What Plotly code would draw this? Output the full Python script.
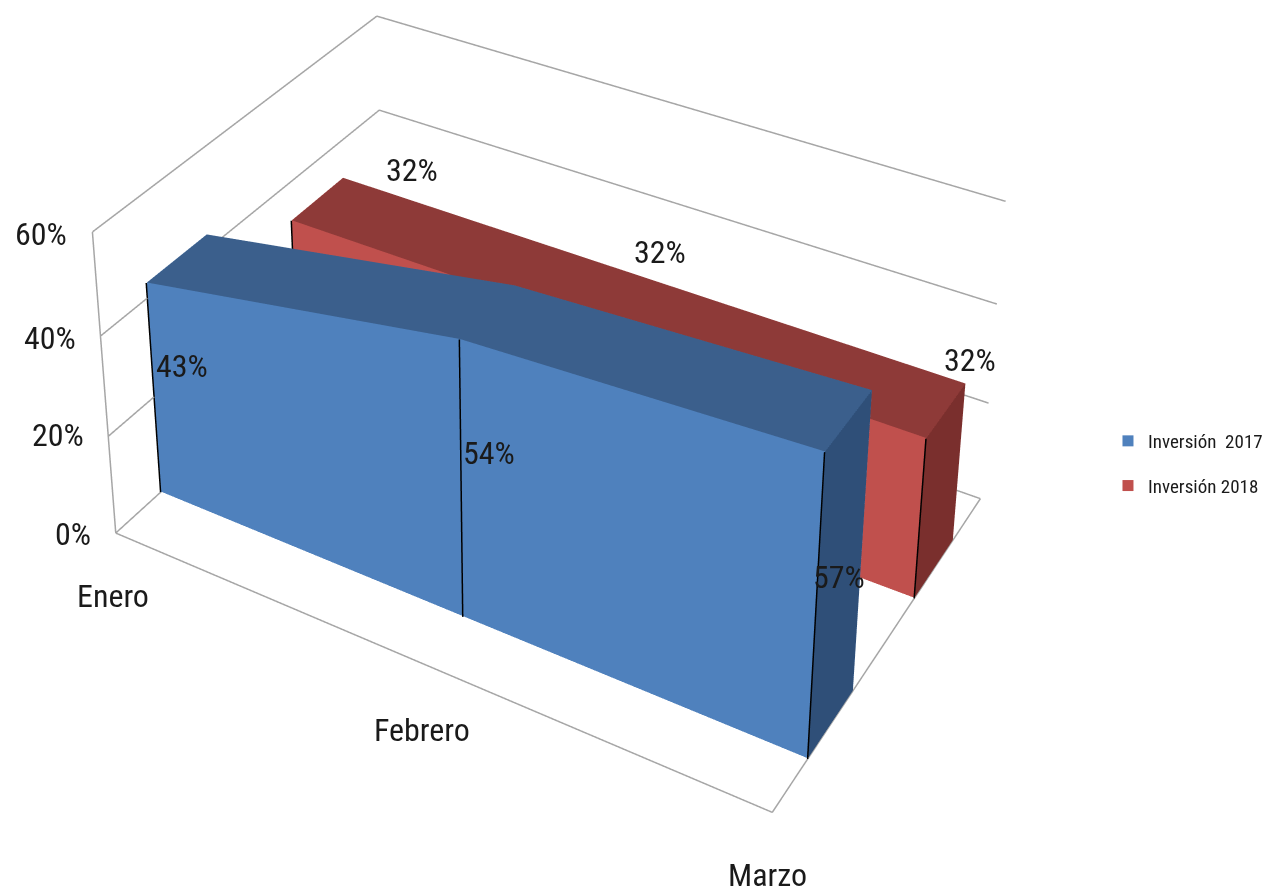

import plotly.graph_objects as go

categorias = ["Enero", "Febrero", "Marzo"]
inv_2017 = [43, 54, 57]
inv_2018 = [32, 32, 32]
ticks = [0, 20, 40, 60]
xs = [0, 1, 2]
serie_2017 = "Inversión\u00a0 2017"
serie_2018 = "Inversión 2018"

# Depth bands of the two series along the (0..1) depth axis
depth_2017 = (0.15126, 0.35177)
depth_2018 = (0.64958, 0.84867)

# Camera fitted to the reference's three-point perspective
eye = dict(x=2.09402, y=-3.65850, z=3.10025)
center = dict(x=-0.43524, y=0.64097, z=0.90899)
up = dict(x=-0.00140, y=0.00353, z=0.16462)
aspect = dict(x=1.41655, y=0.95282, z=0.69446)

# The camera's optical axis sits above the picture, so the scene is taller than the page
W = 1268
SCENE_H = 2206
EXTRA = 30
H = SCENE_H + EXTRA
TOP = -1329
AXIS_X = 522.84 + 15.5
dom_w = 2 * AXIS_X / W

BLUE = ('#4F81BD', '#3B5F8C', '#2F4F78')
RED = ('#C0504D', '#8E3A38', '#7A2F2D')
FONT = 'Roboto Condensed'
TEXT = '#1a1a1a'
zmax = ticks[-1]

fig = go.Figure()

# Wall and floor lines
wx, wy, wz = [], [], []
for t in ticks:
    wx += [0, 0, xs[-1], None]
    wy += [0, 1, 1, None]
    wz += [t, t, t, None]
wx += [0, 0, None, 0, xs[-1], xs[-1]]
wy += [0, 0, None, 0, 0, 1]
wz += [0, zmax, None, 0, 0, 0]
fig.add_trace(go.Scatter3d(x=wx, y=wy, z=wz, mode='lines', line=dict(color='#A6A6A6', width=3),
                           showlegend=False, hoverinfo='skip'))

for vals, (d0, d1), cols in ((inv_2017, depth_2017, BLUE), (inv_2018, depth_2018, RED)):
    vx, vy, vz = [], [], []
    for yy in (d0, d1):
        for n, xv in enumerate(xs):
            vx += [xv, xv]
            vy += [yy, yy]
            vz += [0, vals[n]]
    i, j, k, fc = [], [], [], []

    def q4(A, B, C, E, col):
        i.extend([A, A])
        j.extend([B, C])
        k.extend([C, E])
        fc.extend([col, col])

    q4(0, 2, 3, 1, cols[0]); q4(2, 4, 5, 3, cols[0]); q4(6, 8, 9, 7, cols[0]); q4(8, 10, 11, 9, cols[0])
    q4(1, 3, 9, 7, cols[1]); q4(3, 5, 11, 9, cols[1]); q4(4, 10, 11, 5, cols[2]); q4(0, 6, 7, 1, cols[0])
    fig.add_trace(go.Mesh3d(x=vx, y=vy, z=vz, i=i, j=j, k=k, facecolor=fc, flatshading=True,
                            lighting=dict(ambient=1, diffuse=0, specular=0, fresnel=0),
                            hoverinfo='skip', showscale=False))
    lx, ly, lz = [], [], []
    for n, xv in enumerate(xs):
        lx += [xv, xv, None]
        ly += [d0 - 0.002, d0 - 0.002, None]
        lz += [0, vals[n], None]
    fig.add_trace(go.Scatter3d(x=lx, y=ly, z=lz, mode='lines', line=dict(color='black', width=3),
                               showlegend=False, hoverinfo='skip'))

for name, col, grp in ((serie_2017, BLUE[0], 'a'), (serie_2018, RED[0], 'b')):
    fig.add_trace(go.Scatter3d(x=[None], y=[None], z=[None], mode='markers', name=name, legendgroup=grp,
                               marker=dict(symbol='square', size=11, color=col)))


def ann(x, y, z, text, dx, dy):
    return dict(x=x, y=y, z=z, text=text, showarrow=False, xshift=dx, yshift=-dy,
                xanchor='center', yanchor='middle', font=dict(family=FONT, size=32, color=TEXT))


annots = []
for t, (dx, dy) in zip(ticks, ((-43, 1), (-50, -1), (-50, 2), (-51, 2))):
    annots.append(ann(0, 0, t, f"{t}%", dx, dy))
for n, (dx, dy) in enumerate(((-3, 63), (0, 67), (-5, 63))):
    annots.append(ann(xs[n], 0, 0, categorias[n], dx, dy))
for n, (dx, dy) in enumerate(((35, 84), (29, 114), (14, 126))):
    annots.append(ann(xs[n], depth_2017[0], inv_2017[n], f"{inv_2017[n]}%", dx, dy))
for n, (dx, dy) in enumerate(((69, -8), (25, -22), (5, -23))):
    annots.append(ann(xs[n], depth_2018[1], inv_2018[n], f"{inv_2018[n]}%", dx, dy))

axb = dict(showbackground=False, showgrid=False, zeroline=False, showticklabels=False, title='',
           showspikes=False, showline=False, ticks='')
fig.update_layout(
    template='none', width=W, height=H, margin=dict(l=0, r=0, t=0, b=0), paper_bgcolor='white',
    showlegend=True,
    legend=dict(x=1133 / W, y=1 - (422 - TOP) / H, xanchor='left', yanchor='top', tracegroupgap=17,
                bgcolor='rgba(0,0,0,0)', font=dict(family=FONT, size=19, color=TEXT)),
    scene=dict(domain=dict(x=[0, dom_w], y=[EXTRA / H, 1]), aspectmode='manual', aspectratio=aspect,
               camera=dict(eye=eye, center=center, up=up), annotations=annots,
               xaxis=dict(axb, range=[0, xs[-1]]), yaxis=dict(axb, range=[0, 1]),
               zaxis=dict(axb, range=[0, zmax])))

fig.write_html("out.html", post_script="document.body.style.margin='0';"
               "document.getElementById('{plot_id}').style.marginTop='%dpx';" % TOP)
